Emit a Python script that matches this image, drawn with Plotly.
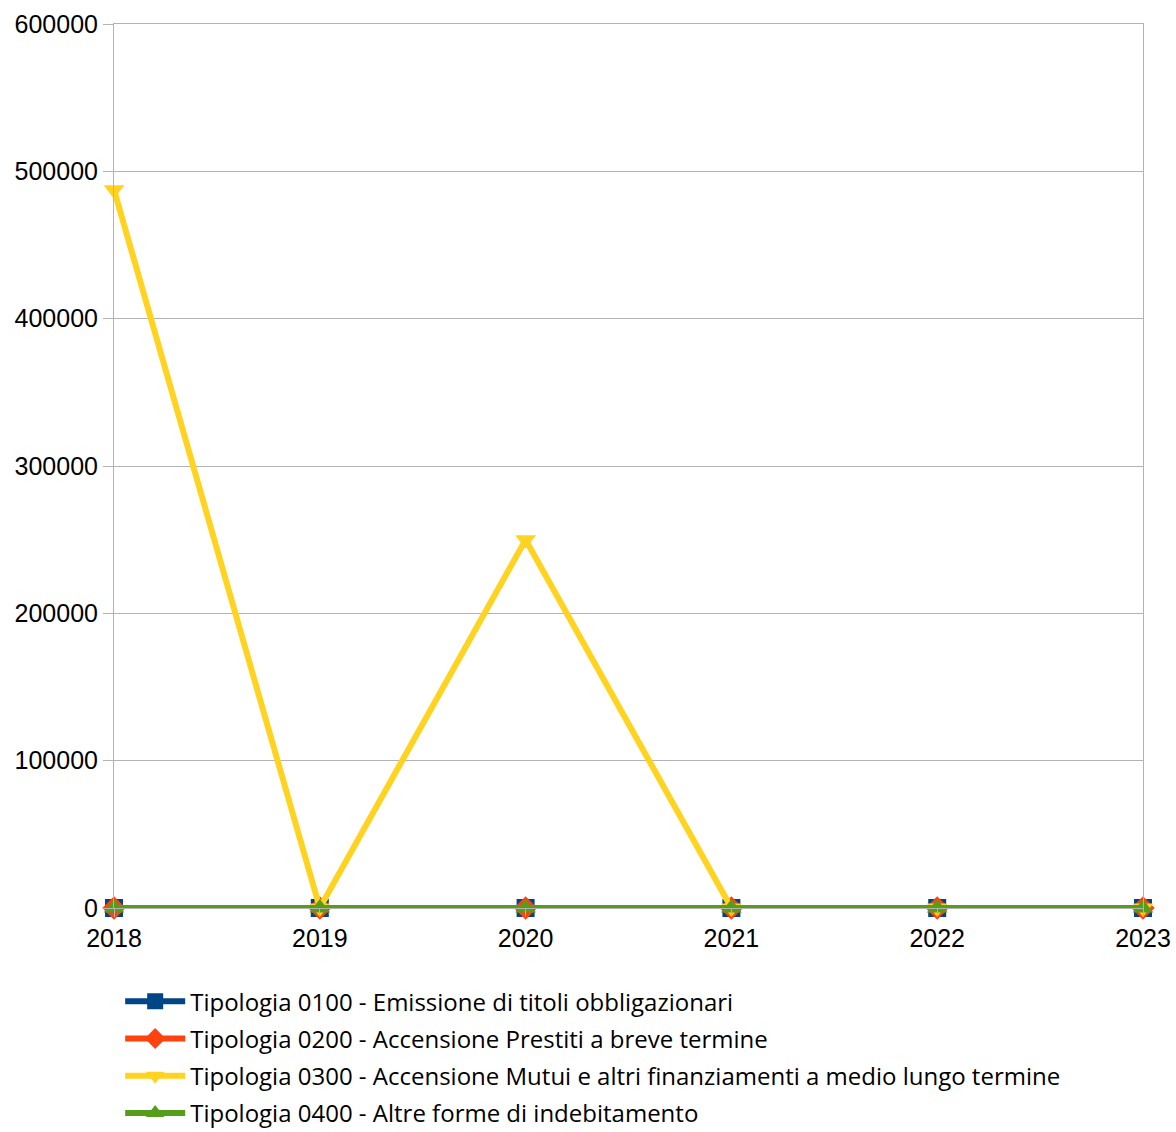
import plotly.graph_objects as go

years = [2018, 2019, 2020, 2021, 2022, 2023]
s0100 = [0, 0, 0, 0, 0, 0]
s0200 = [0, 0, 0, 0, 0, 0]
s0300 = [487500, 0, 250000, 0, 0, 0]
s0400 = [0, 0, 0, 0, 0, 0]

names = [
    "Tipologia 0100 - Emissione di titoli obbligazionari",
    "Tipologia 0200 - Accensione Prestiti a breve termine",
    "Tipologia 0300 - Accensione Mutui e altri finanziamenti a medio lungo termine",
    "Tipologia 0400 - Altre forme di indebitamento",
]
colors = ["#004586", "#ff420e", "#ffd320", "#579d1c"]
symbols = ["square", "diamond", "triangle-down", "triangle-up"]
series = [s0100, s0200, s0300, s0400]

fig = go.Figure()
for i, (n, c, sym, s) in enumerate(zip(names, colors, symbols, series)):
    fig.add_trace(go.Scatter(
        x=years, y=s, name=n, mode="lines+markers",
        line=dict(color=c, width=6),
        marker=dict(symbol=sym, size=18, color=c),
        cliponaxis=False, legendgroup=f"g{i}",
    ))

fig.update_layout(
    width=1176, height=1132,
    margin=dict(l=114, r=33, t=24, b=224),
    plot_bgcolor="white", paper_bgcolor="white",
    font=dict(family="Liberation Sans", size=25, color="black"),
    legend=dict(
        x=0.006, xref="paper", y=0.135, yref="container",
        xanchor="left", yanchor="top",
        font=dict(family="Open Sans", size=24),
        tracegroupgap=3, itemwidth=60,
    ),
    xaxis=dict(
        range=[2018, 2023], dtick=1, showgrid=False, zeroline=False,
        showline=True, mirror=True, linecolor="#b3b3b3", linewidth=1,
        ticks="outside", ticklen=8, tickcolor="#b3b3b3",
        tickfont=dict(size=25), automargin=False,
    ),
    yaxis=dict(
        range=[0, 600000], dtick=100000, tickformat="d",
        showgrid=True, gridcolor="#b3b3b3", zeroline=False,
        showline=True, mirror=True, linecolor="#b3b3b3", linewidth=1,
        ticks="outside", ticklen=10, tickcolor="#b3b3b3",
        tickfont=dict(size=25), automargin=False,
    ),
)

fig.write_html(
    "out.html",
    config={"displayModeBar": False},
    post_script="document.body.style.margin='0';document.body.style.overflow='hidden';",
)
